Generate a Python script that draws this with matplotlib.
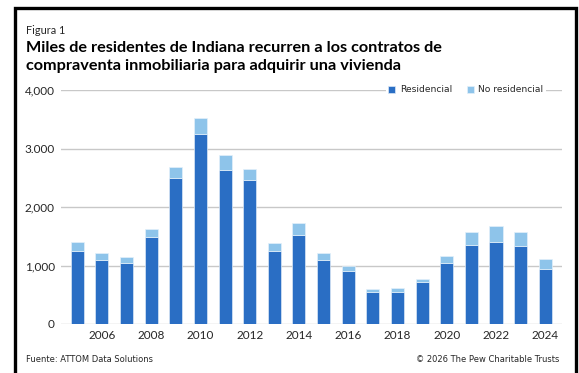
import matplotlib.pyplot as plt
from matplotlib.patches import Rectangle

years = list(range(2005, 2025))
residencial = [1247, 1098, 1040, 1488, 2501, 3248, 2632, 2456, 1247, 1522,
               1098, 902, 540, 540, 724, 1040, 1345, 1402, 1328, 948]
total = [1408, 1219, 1138, 1621, 2689, 3527, 2884, 2655, 1379, 1719,
         1219, 1000, 603, 615, 776, 1155, 1580, 1678, 1569, 1115]
no_residencial = [t - r for t, r in zip(total, residencial)]
xtick_years = list(range(2006, 2025, 2))
ytick_vals = [0, 1000, 2000, 3000, 4000]
ytick_labels = ["0", "1,000", "2,000", "3.000", "4,000"]

c_res = "#2a6ec4"
c_nores = "#8ec4ea"

fig = plt.figure(figsize=(5.79, 3.73), dpi=100)
W, H = 579, 373

# frame around the figure (left, top, right)
fig.add_artist(Rectangle((15 / W, -0.1), (576 - 15) / W, 1.1 - 8 / H,
                         transform=fig.transFigure, fill=False,
                         edgecolor="black", linewidth=2.4))

ax = fig.add_axes([61 / W, 1 - 324 / H, (562 - 61) / W, (324 - 90) / H])

ax.bar(years, residencial, width=0.53, color=c_res, edgecolor="#dbe8f6",
       linewidth=0.5, label="Residencial", zorder=3)
ax.bar(years, no_residencial, bottom=residencial, width=0.53, color=c_nores,
       edgecolor="#e3f0fa", linewidth=0.5, label="No residencial", zorder=3)

ax.set_xlim(2004.34, 2024.68)
ax.set_ylim(0, 4000)
ax.set_yticks(ytick_vals)
ax.set_yticklabels(ytick_labels)
ax.set_xticks(xtick_years)
ax.set_xticklabels([str(y) for y in xtick_years])
ax.grid(axis="y", color="#c8c8c8", linewidth=1.0, zorder=0)
ax.tick_params(length=0, labelsize=8.5, labelcolor="#262626")
ax.tick_params(axis="y", pad=4.5)
ax.tick_params(axis="x", pad=4)
for lab in ax.get_xticklabels() + ax.get_yticklabels():
    lab.set_family("Lato")
for s in ax.spines.values():
    s.set_visible(False)
ax.set_axisbelow(True)

leg = ax.legend(loc="center right", bbox_to_anchor=((546 - 61) / 501, 1.0),
                ncol=2, frameon=True, facecolor="white", edgecolor="none",
                framealpha=1, fontsize=6.6, handlelength=0.75,
                handleheight=0.75, handletextpad=0.5, columnspacing=1.6,
                borderpad=0.3, borderaxespad=0)
for t in leg.get_texts():
    t.set_color("#262626")

fig.text(26 / W, 1 - 30 / H, "Figura 1", fontsize=7.8, family="Lato",
         va="center", ha="left", color="#262626")
fig.text(26 / W, 1 - 57 / H,
         "Miles de residentes de Indiana recurren a los contratos de\n"
         "compraventa inmobiliaria para adquirir una vivienda",
         fontsize=11.7, fontweight="bold", family="Lato", va="center",
         ha="left", linespacing=1.45, color="black")

fig.text(26 / W, 1 - 360 / H, "Fuente: ATTOM Data Solutions", fontsize=6.0,
         va="center", ha="left", color="#262626")
fig.text(559 / W, 1 - 360 / H, "\u00a9 2026 The Pew Charitable Trusts",
         fontsize=6.0, va="center", ha="right", color="#262626")

fig.savefig("out.png", dpi=100)
